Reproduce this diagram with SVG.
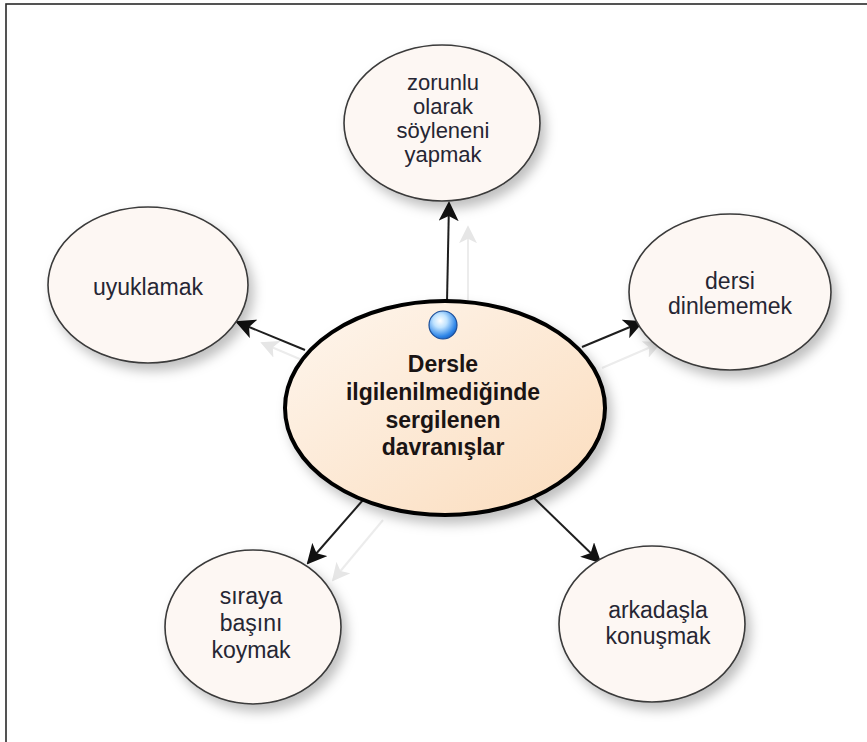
<svg xmlns="http://www.w3.org/2000/svg" width="867" height="742" viewBox="0 0 867 742">
<style>
.node{fill:#fdf7f3;stroke:#3a3a3a;stroke-width:1.6;filter:url(#sh)}
.t{font-family:"Liberation Sans",Arial,sans-serif;font-size:23px;fill:#262633;text-anchor:middle}
.ts{font-size:22px}
.tb{font-family:"Liberation Sans",Arial,sans-serif;font-size:23px;font-weight:bold;fill:#1a1414;text-anchor:middle}
.c{stroke:#1e1e1e;stroke-width:2;fill:none;marker-end:url(#ah)}
.g{stroke:#ececec;stroke-width:2;fill:none;marker-end:url(#ahg)}
</style>
<defs>
<filter id="sh" x="-20%" y="-20%" width="150%" height="150%">
<feDropShadow dx="5" dy="7" stdDeviation="6" flood-color="#000" flood-opacity="0.25"/>
</filter>
<linearGradient id="cg" x1="0" y1="0" x2="1" y2="1">
<stop offset="0" stop-color="#fef6ee"/>
<stop offset="1" stop-color="#fbdcbc"/>
</linearGradient>
<radialGradient id="bg" cx="0.4" cy="0.35" r="0.7">
<stop offset="0" stop-color="#ffffff"/>
<stop offset="0.35" stop-color="#bfe3ff"/>
<stop offset="0.8" stop-color="#2f86e8"/>
<stop offset="1" stop-color="#1a5fc0"/>
</radialGradient>
<marker id="ah" viewBox="0 0 20 20" refX="18" refY="10" markerWidth="20" markerHeight="20" markerUnits="userSpaceOnUse" orient="auto">
<path d="M0,0 L20,10 L0,20 L5,10 Z" fill="#111"/>
</marker>
<marker id="ahg" viewBox="0 0 20 20" refX="18" refY="10" markerWidth="18" markerHeight="18" markerUnits="userSpaceOnUse" orient="auto">
<path d="M0,0 L20,10 L0,20 L5,10 Z" fill="#e6e6e6"/>
</marker>
</defs>
<rect x="6" y="4" width="900" height="800" fill="#fff" stroke="#2a2a2a" stroke-width="1.6"/>
<g id="connectors">
<line class="g" x1="468" y1="300" x2="468" y2="227"/>
<line class="g" x1="302" y1="360" x2="262" y2="343"/>
<line class="g" x1="602" y1="368" x2="660" y2="343"/>
<line class="g" x1="383" y1="520" x2="333" y2="580"/>
<line class="c" x1="447" y1="302" x2="449" y2="203"/>
<line class="c" x1="305" y1="350" x2="237" y2="322"/>
<line class="c" x1="582" y1="347" x2="642" y2="322"/>
<line class="c" x1="363" y1="500" x2="308" y2="563"/>
<line class="c" x1="533" y1="497" x2="600" y2="562"/>
</g>
<g id="n-top">
<ellipse class="node" cx="442" cy="123" rx="98" ry="78"/>
<text class="t ts" x="443" y="90">zorunlu</text>
<text class="t ts" x="443" y="114">olarak</text>
<text class="t ts" x="443" y="138">söyleneni</text>
<text class="t ts" x="443" y="162">yapmak</text>
</g>
<g id="n-uyuklamak">
<ellipse class="node" cx="148" cy="285" rx="100" ry="78"/>
<text class="t" x="148" y="295">uyuklamak</text>
</g>
<g id="n-dersi">
<ellipse class="node" cx="730" cy="292" rx="101" ry="78"/>
<text class="t" x="730" y="289">dersi</text>
<text class="t" x="730" y="314">dinlememek</text>
</g>
<g id="n-siraya">
<ellipse class="node" cx="253" cy="627" rx="88" ry="77"/>
<text class="t" x="251" y="604">sıraya</text>
<text class="t" x="251" y="631">başını</text>
<text class="t" x="251" y="658">koymak</text>
</g>
<g id="n-arkadasla">
<ellipse class="node" cx="652" cy="624" rx="93" ry="78"/>
<text class="t" x="658" y="618">arkadaşla</text>
<text class="t" x="658" y="644">konuşmak</text>
</g>
<g id="n-center">
<ellipse cx="445" cy="408" rx="160" ry="107" fill="url(#cg)" stroke="#000" stroke-width="4" filter="url(#sh)"/>
<circle cx="443" cy="325" r="14" fill="url(#bg)" stroke="#1d4f99" stroke-width="1.2"/>
<text class="tb" x="443" y="372">Dersle</text>
<text class="tb" x="443" y="400">ilgilenilmediğinde</text>
<text class="tb" x="443" y="428">sergilenen</text>
<text class="tb" x="443" y="455">davranışlar</text>
</g>
</svg>
